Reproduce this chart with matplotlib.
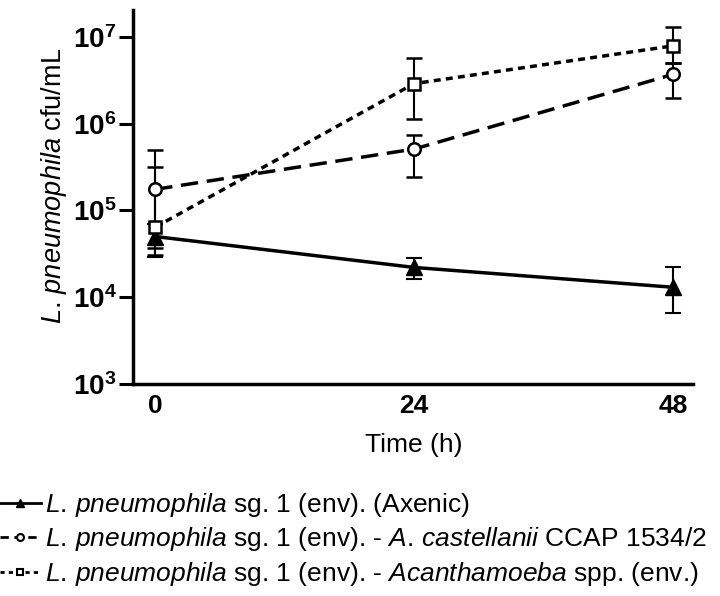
#!/usr/bin/env python3

import numpy as np
import matplotlib
matplotlib.use("Agg")
import matplotlib.pyplot as plt
from matplotlib.lines import Line2D

plt.rcParams['font.family'] = ['Liberation Sans', 'DejaVu Sans']
plt.rcParams['mathtext.fontset'] = 'custom'
plt.rcParams['mathtext.rm'] = 'Liberation Sans'
plt.rcParams['mathtext.it'] = 'Liberation Sans:italic'
plt.rcParams['mathtext.bf'] = 'Liberation Sans:bold'

# time points (h)
time = [0, 24, 48]

# L. pneumophila alone (axenic)
axenic = [5.0e4, 2.2e4, 1.3e4]
axenic_lo = [2.9e4, 1.6e4, 6.6e3]
axenic_hi = [7.0e4, 2.8e4, 2.2e4]

# with A. castellanii CCAP 1534/2
castellanii = [1.75e5, 5.1e5, 3.7e6]
castellanii_lo = [3.1e4, 2.45e5, 2.0e6]
castellanii_hi = [5.0e5, 7.4e5, 5.0e6]

# with Acanthamoeba spp. (env.)
acanth = [6.4e4, 2.9e6, 7.9e6]
acanth_lo = [3.7e4, 1.12e6, 5.0e6]
acanth_hi = [3.2e5, 5.7e6, 1.3e7]

labels = [r'$\mathit{L.\,pneumophila}$ sg. 1 (env). (Axenic)',
          r'$\mathit{L.\,pneumophila}$ sg. 1 (env). - $\mathit{A.\,castellanii}$ CCAP 1534/2',
          r'$\mathit{L.\,pneumophila}$ sg. 1 (env). - $\mathit{Acanthamoeba}$ spp. (env.)']

yticks = [1e3, 1e4, 1e5, 1e6, 1e7]
ytick_labels = [r'$\mathbf{10^{3}}$', r'$\mathbf{10^{4}}$', r'$\mathbf{10^{5}}$',
                r'$\mathbf{10^{6}}$', r'$\mathbf{10^{7}}$']

def yerr( y, lo, hi ):
    y = np.array(y); lo = np.array(lo); hi = np.array(hi)
    return [y - lo, hi - y]

fig = plt.figure(figsize=(7.2, 5.96), dpi=100)
ax = fig.add_axes([0.185, 0.356, 0.778, 0.627])

ekw = dict(ecolor='black', elinewidth=1.5, capsize=6, capthick=1.5)

dash_long = (0, (5, 2.5))
dash_short = (0, (2, 1.5))

ax.errorbar(time, axenic, yerr=yerr(axenic, axenic_lo, axenic_hi),
            color='black', lw=2.5, ls='-', marker='^', ms=11,
            mfc='black', mec='black', **ekw)
ax.errorbar(time, castellanii, yerr=yerr(castellanii, castellanii_lo, castellanii_hi),
            color='black', lw=2.5, ls=dash_long, marker='o', ms=9,
            mfc='white', mec='black', mew=1.8, **ekw)
ax.errorbar(time, acanth, yerr=yerr(acanth, acanth_lo, acanth_hi),
            color='black', lw=2.5, ls=dash_short, marker='s', ms=8,
            mfc='white', mec='black', mew=1.8, **ekw)

ax.set_yscale('log')
ax.set_ylim(1e3, 10**7.31)
ax.set_xlim(-2.04, 49.9)
ax.set_yticks(yticks)
ax.set_yticklabels(ytick_labels, fontsize=20)
ax.minorticks_off()
ax.set_xticks(time)
ax.set_xticklabels([str(t) for t in time], fontsize=19, fontweight='bold')
ax.tick_params(axis='y', direction='out', length=10, width=2.2, pad=2)
ax.tick_params(axis='x', length=0, pad=7)

for s in ['top', 'right']:
    ax.spines[s].set_visible(False)
for s in ['left', 'bottom']:
    ax.spines[s].set_linewidth(2.5)

ax.set_xlabel('Time (h)', fontsize=19, labelpad=11)
ax.set_ylabel(r'$\mathit{L.\,pneumophila}$ cfu/mL', fontsize=19.5, labelpad=3)
ax.yaxis.set_label_coords(-0.115, 0.53)

handles = [Line2D([], [], color='black', lw=2, ls='-', marker='^', ms=6, mfc='black'),
           Line2D([], [], color='black', lw=2, ls=(0, (3, 2)), marker='o', ms=5, mfc='white', mew=1.5),
           Line2D([], [], color='black', lw=2, ls=(0, (1.5, 1.5)), marker='s', ms=5, mfc='white', mew=1.5)]

fig.legend(handles, labels, loc='upper left', bbox_to_anchor=(0.0, 0.176),
           frameon=False, fontsize=19, handlelength=1.55, handletextpad=0.15,
           labelspacing=0.24, borderaxespad=0.0, borderpad=0.0)

fig.savefig('out.png', dpi=100)
